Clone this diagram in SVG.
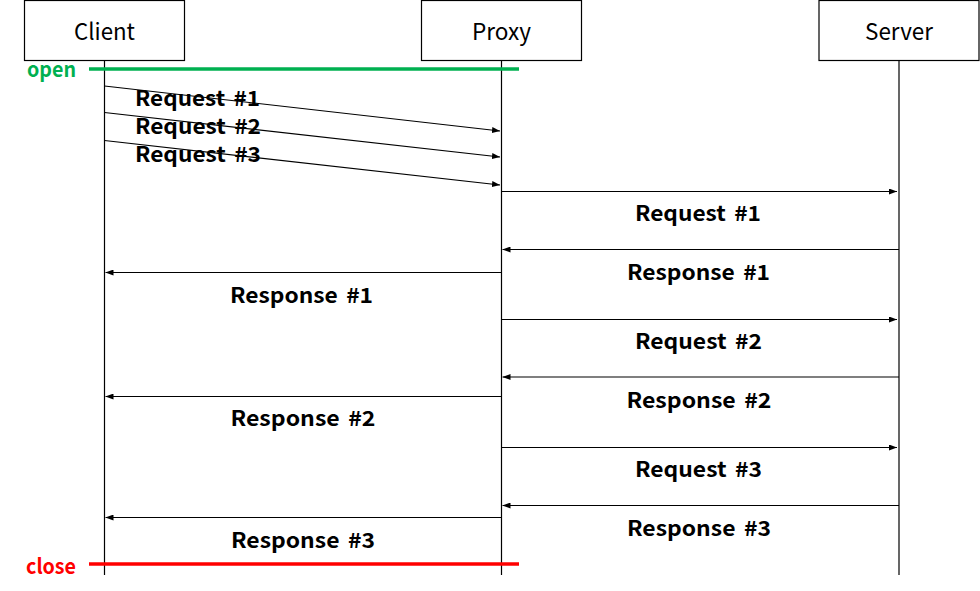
<svg xmlns="http://www.w3.org/2000/svg" width="980" height="591" viewBox="0 0 980 591">
<style>
.box{fill:#fff;stroke:#000;stroke-width:1.2}
.life{stroke:#000;stroke-width:1.2;fill:none}
.title{font-family:"Noto Sans CJK KR","Liberation Sans",sans-serif;font-size:23px;fill:#000;text-anchor:middle}
.lbl{font-family:"Noto Sans CJK KR","Liberation Sans",sans-serif;font-size:21px;font-weight:bold;fill:#000;word-spacing:3px}
.mid{text-anchor:middle}
.msg{stroke:#000;stroke-width:1.2;fill:none;marker-end:url(#ah)}
.open{stroke:#00B050;stroke-width:3.5}
.close{stroke:#FF0000;stroke-width:3.5}
.otext{font-family:"Noto Sans CJK KR","Liberation Sans",sans-serif;font-size:21px;font-weight:bold;fill:#00B050}
.ctext{font-family:"Noto Sans CJK KR","Liberation Sans",sans-serif;font-size:21px;font-weight:bold;fill:#FF0000}
</style>
<defs>
<marker id="ah" viewBox="0 0 8 6" refX="8" refY="3" markerWidth="8" markerHeight="6" orient="auto" markerUnits="userSpaceOnUse">
<path d="M0,0 L8,3 L0,6 z" fill="#000"/>
</marker>
</defs>
<rect width="980" height="591" fill="#fff"/>
<g id="lifelines">
<line class="life" x1="104.5" y1="60" x2="104.5" y2="575"/>
<line class="life" x1="501.5" y1="60" x2="501.5" y2="575"/>
<line class="life" x1="899" y1="60" x2="899" y2="575"/>
</g>
<g id="client">
<rect class="box" x="24.5" y="0.5" width="160" height="60"/>
<text class="title" x="104.5" y="40" textLength="61" lengthAdjust="spacingAndGlyphs">Client</text>
</g>
<g id="proxy">
<rect class="box" x="421.5" y="0.5" width="160" height="60"/>
<text class="title" x="501.5" y="40" textLength="59" lengthAdjust="spacingAndGlyphs">Proxy</text>
</g>
<g id="server">
<rect class="box" x="819" y="0.5" width="160" height="60"/>
<text class="title" x="899" y="40" textLength="68" lengthAdjust="spacingAndGlyphs">Server</text>
</g>
<g id="open-marker">
<line class="open" x1="89" y1="69" x2="519" y2="69"/>
<text class="otext" x="27" y="77" textLength="49" lengthAdjust="spacingAndGlyphs">open</text>
</g>
<g id="close-marker">
<line class="close" x1="89" y1="564" x2="519" y2="564"/>
<text class="ctext" x="26" y="574" textLength="50" lengthAdjust="spacingAndGlyphs">close</text>
</g>
<g id="labels">
<text class="lbl" x="135" y="106" textLength="125" lengthAdjust="spacingAndGlyphs">Request #1</text>
<text class="lbl" x="135" y="134" textLength="126" lengthAdjust="spacingAndGlyphs">Request #2</text>
<text class="lbl" x="135" y="162" textLength="126" lengthAdjust="spacingAndGlyphs">Request #3</text>
<text class="lbl mid" x="698" y="221" textLength="126" lengthAdjust="spacingAndGlyphs">Request #1</text>
<text class="lbl mid" x="698.5" y="280" textLength="143" lengthAdjust="spacingAndGlyphs">Response #1</text>
<text class="lbl mid" x="301.5" y="303" textLength="143" lengthAdjust="spacingAndGlyphs">Response #1</text>
<text class="lbl mid" x="698.5" y="349" textLength="127" lengthAdjust="spacingAndGlyphs">Request #2</text>
<text class="lbl mid" x="699" y="408" textLength="145" lengthAdjust="spacingAndGlyphs">Response #2</text>
<text class="lbl mid" x="303" y="426" textLength="145" lengthAdjust="spacingAndGlyphs">Response #2</text>
<text class="lbl mid" x="698.5" y="477" textLength="127" lengthAdjust="spacingAndGlyphs">Request #3</text>
<text class="lbl mid" x="699" y="536" textLength="144" lengthAdjust="spacingAndGlyphs">Response #3</text>
<text class="lbl mid" x="303" y="548" textLength="144" lengthAdjust="spacingAndGlyphs">Response #3</text>
</g>
<g id="connectors">
<line class="msg" x1="104.5" y1="86" x2="500" y2="131"/>
<line class="msg" x1="104.5" y1="112.5" x2="500" y2="157"/>
<line class="msg" x1="104.5" y1="140.5" x2="500" y2="185"/>
<line class="msg" x1="501.5" y1="191.5" x2="897" y2="191.5"/>
<line class="msg" x1="899" y1="249.5" x2="502.5" y2="249.5"/>
<line class="msg" x1="501.5" y1="272.5" x2="105.5" y2="272.5"/>
<line class="msg" x1="501.5" y1="319.5" x2="897" y2="319.5"/>
<line class="msg" x1="899" y1="377" x2="502.5" y2="377"/>
<line class="msg" x1="501.5" y1="396.5" x2="105.5" y2="396.5"/>
<line class="msg" x1="501.5" y1="447.5" x2="897" y2="447.5"/>
<line class="msg" x1="899" y1="505.5" x2="502.5" y2="505.5"/>
<line class="msg" x1="501.5" y1="517.5" x2="105.5" y2="517.5"/>
</g>
</svg>
